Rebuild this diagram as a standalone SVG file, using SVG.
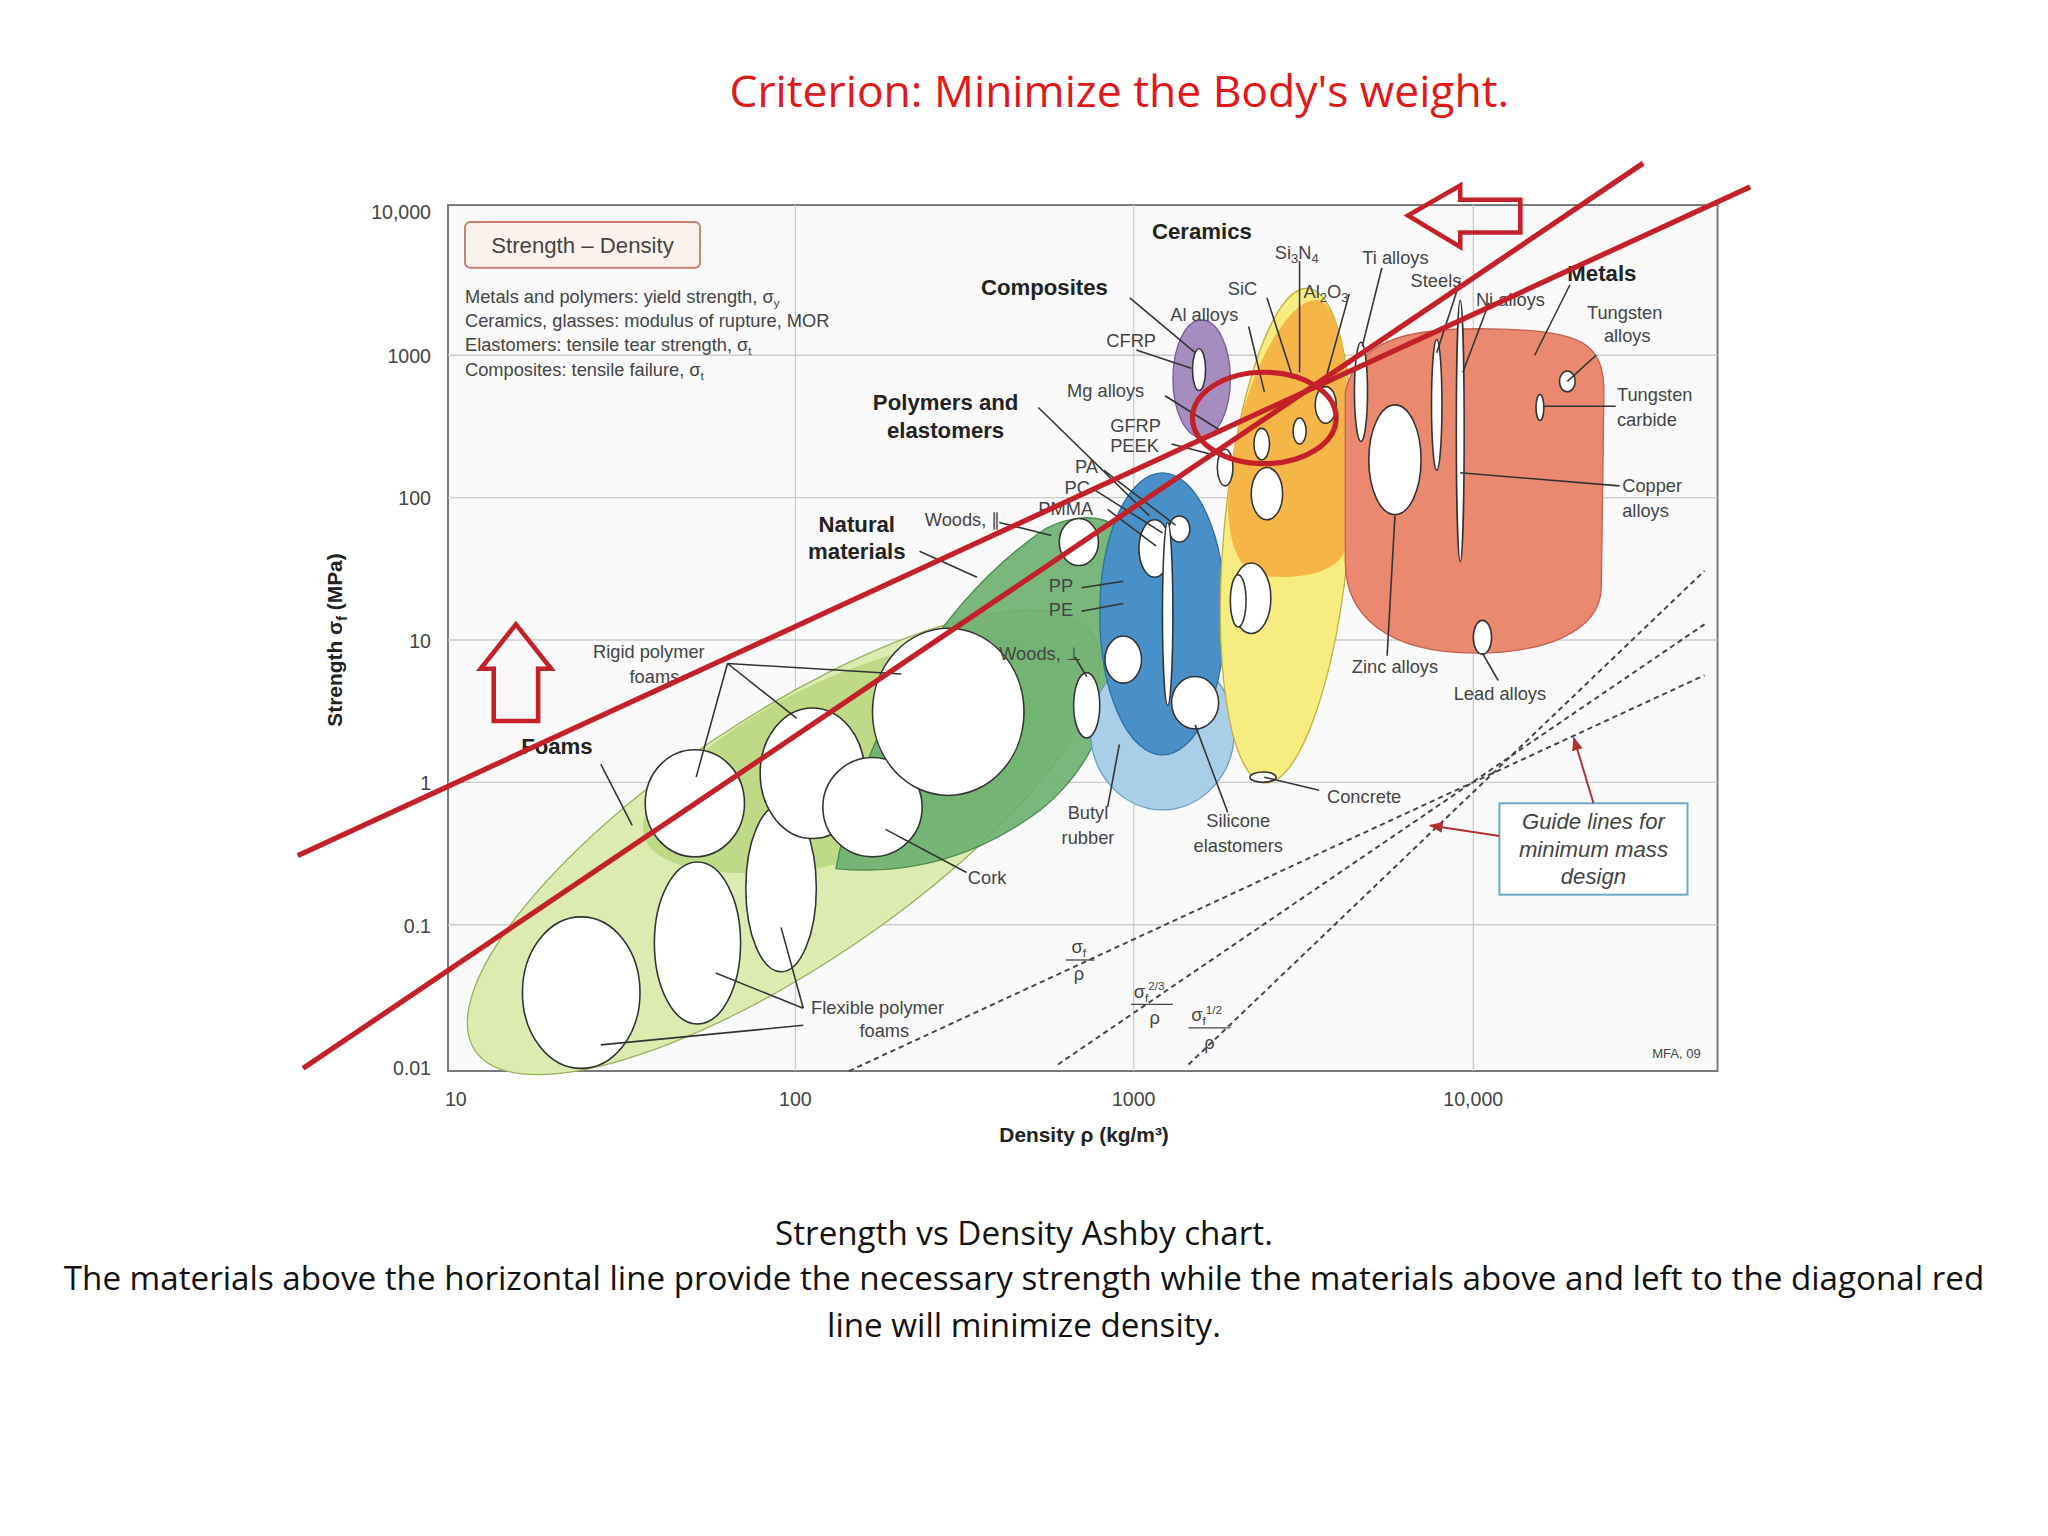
<svg xmlns="http://www.w3.org/2000/svg" width="2048" height="1536" viewBox="0 0 2048 1536">
<defs>
<style>
.t{font-family:"Liberation Sans",Arial,sans-serif;fill:#444;font-size:14px}
.b{font-family:"Liberation Sans",Arial,sans-serif;fill:#222;font-size:16px;font-weight:bold}
.ax{font-family:"Liberation Sans",Arial,sans-serif;fill:#444;font-size:15px}
.cap{font-family:"Open Sans","Liberation Sans",sans-serif;fill:#111;font-size:25.4px}
.w{fill:#fff;stroke:#333;stroke-width:1.2}
.ld{stroke:#333;stroke-width:1.2;fill:none}
.g{stroke:#ccc;stroke-width:1}
.d{stroke:#444;stroke-width:1.5;stroke-dasharray:4 3;fill:none}
.red{stroke:#c4202a;stroke-width:4;fill:none}
</style>
<marker id="ah" viewBox="0 0 10 10" refX="9" refY="5" markerWidth="7" markerHeight="7" orient="auto"><path d="M0,1 L10,5 L0,9z" fill="#b03030"/></marker>
</defs>
<rect width="2048" height="1536" fill="#fff"/>
<g transform="scale(1.30612)">
<text x="857" y="82" text-anchor="middle" style="font-family:'Open Sans','Liberation Sans',sans-serif;font-size:34px;fill:#e01818">Criterion: Minimize the Body's weight.</text>
<rect x="343" y="157" width="972" height="663" fill="#fafafa" stroke="#777" stroke-width="1.5"/>
<g class="g">
<line x1="343" y1="272" x2="1315" y2="272"/><line x1="343" y1="381" x2="1315" y2="381"/><line x1="343" y1="490" x2="1315" y2="490"/><line x1="343" y1="599" x2="1315" y2="599"/><line x1="343" y1="708" x2="1315" y2="708"/>
<line x1="609" y1="157" x2="609" y2="820"/><line x1="868" y1="157" x2="868" y2="820"/><line x1="1128" y1="157" x2="1128" y2="820"/>
</g>
<g class="ax" text-anchor="end">
<text x="330" y="168">10,000</text><text x="330" y="278">1000</text><text x="330" y="387">100</text><text x="330" y="496">10</text><text x="330" y="605">1</text><text x="330" y="714">0.1</text><text x="330" y="823">0.01</text>
</g>
<g class="ax" text-anchor="middle">
<text x="349" y="847">10</text><text x="609" y="847">100</text><text x="868" y="847">1000</text><text x="1128" y="847">10,000</text>
</g>
<text x="830" y="874" text-anchor="middle" class="b" style="font-size:16px">Density ρ (kg/m³)</text>
<text transform="translate(262,490) rotate(-90)" text-anchor="middle" class="b" style="font-size:16px">Strength σ<tspan font-size="11" dy="4">f</tspan><tspan dy="-4"> (MPa)</tspan></text>
<rect x="356" y="170" width="180" height="35" rx="4" fill="#fdf3ee" stroke="#c98070" stroke-width="1.5"/>
<text x="446" y="194" text-anchor="middle" class="t" style="font-size:17px">Strength – Density</text>
<text x="356" y="232" class="t">Metals and polymers: yield strength, σ<tspan font-size="9" dy="3">y</tspan></text>
<text x="356" y="250" class="t">Ceramics, glasses: modulus of rupture, MOR</text>
<text x="356" y="269" class="t">Elastomers: tensile tear strength, σ<tspan font-size="9" dy="3">t</tspan></text>
<text x="356" y="288" class="t">Composites: tensile failure, σ<tspan font-size="9" dy="3">t</tspan></text>
<g id="foams"><ellipse cx="600" cy="645" rx="285" ry="95" transform="rotate(-34 600 645)" fill="#dcebb0" stroke="#99b060"/>
<path d="M495,620 C540,560 640,500 760,485 C820,480 840,520 800,570 C740,630 660,665 600,668 C530,672 480,660 495,620z" fill="#b6d67c" opacity="0.8"/></g>
<g id="natural"><path d="M640,665 C660,560 720,460 800,405 C840,385 875,400 868,450 C860,530 840,590 790,625 C740,660 690,670 640,665z" fill="#6cb070" opacity="0.9" stroke="#3d8040"/></g>
<g id="polymers"><ellipse cx="890" cy="560" rx="55" ry="60" fill="#a9cfe8" stroke="#6a9cc0"/><ellipse cx="890" cy="470" rx="48" ry="108" fill="#4a90c8" stroke="#2f6fa0"/></g>
<g id="ceramics"><ellipse cx="985" cy="410" rx="48" ry="190" transform="rotate(5 985 410)" fill="#f6ec80" stroke="#c0b040"/>
<path d="M940,380 C945,300 985,225 1010,230 C1035,240 1035,330 1030,420 C1025,440 990,445 960,440 C945,430 940,410 940,380z" fill="#f5b040" opacity="0.9"/></g>
<g id="composites"><ellipse cx="920" cy="290" rx="22" ry="45" fill="#a78cc0" stroke="#7a5a98"/></g>
<g id="metals"><path d="M1030,300 C1040,255 1090,250 1150,252 C1210,254 1228,262 1228,300 L1226,450 C1225,485 1180,500 1130,500 C1060,500 1030,470 1030,430z" fill="#ea8870" stroke="#c06050"/></g>
<g class="w">
<ellipse cx="445" cy="760" rx="45" ry="58"/><ellipse cx="534" cy="722" rx="33" ry="62"/><ellipse cx="598" cy="680" rx="27" ry="64"/>
<ellipse cx="532" cy="615" rx="38" ry="41"/><ellipse cx="622" cy="592" rx="40" ry="50"/><ellipse cx="668" cy="618" rx="38" ry="38"/><ellipse cx="726" cy="545" rx="58" ry="64"/>
<ellipse cx="1068" cy="352" rx="20" ry="42"/><ellipse cx="958" cy="458" rx="15" ry="27"/><ellipse cx="915" cy="538" rx="18" ry="20"/><ellipse cx="860" cy="505" rx="14" ry="18"/>
<ellipse cx="832" cy="540" rx="10" ry="25"/><ellipse cx="826" cy="415" rx="15" ry="18"/><ellipse cx="970" cy="378" rx="12" ry="20"/><ellipse cx="938" cy="358" rx="6" ry="14"/>
<ellipse cx="1135" cy="488" rx="7" ry="13"/><ellipse cx="1200" cy="292" rx="6" ry="8"/><ellipse cx="1179" cy="312" rx="3" ry="10"/><ellipse cx="1042" cy="300" rx="5" ry="38"/>
<ellipse cx="1100" cy="310" rx="4" ry="50"/><ellipse cx="1118" cy="330" rx="3" ry="100"/><ellipse cx="918" cy="283" rx="5" ry="16"/><ellipse cx="1015" cy="310" rx="8" ry="14"/>
<ellipse cx="884" cy="420" rx="12" ry="22"/><ellipse cx="903" cy="405" rx="8" ry="10"/><ellipse cx="966" cy="340" rx="6" ry="12"/><ellipse cx="995" cy="330" rx="5" ry="10"/>
<ellipse cx="967" cy="595" rx="10" ry="4"/><ellipse cx="894" cy="470" rx="4" ry="70"/><ellipse cx="948" cy="460" rx="6" ry="20"/>
</g>
<g class="ld">
<path d="M460,585 L484,632"/><path d="M557,508 L533,595 M557,508 L610,550 M557,508 L690,516"/><path d="M678,635 L740,668"/>
<path d="M615,772 L548,745 M615,772 L598,710 M615,785 L460,800"/><path d="M704,422 L748,442"/><path d="M765,400 L805,410"/>
<path d="M823,503 L832,518"/><path d="M828,450 L860,445 M828,468 L860,462"/><path d="M848,618 L857,570"/><path d="M940,622 L915,555"/>
<path d="M1010,605 L968,595"/><path d="M1062,502 L1068,395"/><path d="M1147,521 L1135,500"/><path d="M1240,372 L1118,362"/>
<path d="M1237,311 L1182,311"/><path d="M1222,272 L1200,292"/><path d="M1202,218 L1175,272"/><path d="M865,228 L915,270"/>
<path d="M870,268 L912,282"/><path d="M892,303 L935,330"/><path d="M795,312 L880,395"/><path d="M956,250 L968,300"/><path d="M970,228 L990,290"/>
<path d="M995,200 L995,285"/><path d="M1033,225 L1015,290"/><path d="M1058,205 L1043,265"/><path d="M1118,215 L1100,270"/><path d="M1140,232 L1120,285"/>
<path d="M897,340 L928,348"/><path d="M845,360 L900,402"/><path d="M838,375 L890,408"/><path d="M848,390 L885,418"/>
</g>
<g class="t">
<text x="882" y="183" class="b" style="font-size:17px">Ceramics</text>
<text x="751" y="226" class="b" style="font-size:17px">Composites</text>
<text x="724" y="314" class="b" text-anchor="middle" style="font-size:17px">Polymers and</text><text x="724" y="335" class="b" text-anchor="middle" style="font-size:17px">elastomers</text>
<text x="656" y="407" class="b" text-anchor="middle" style="font-size:17px">Natural</text><text x="656" y="428" class="b" text-anchor="middle" style="font-size:17px">materials</text>
<text x="1200" y="215" class="b" style="font-size:17px">Metals</text>
<text x="399" y="577" class="b" style="font-size:17px">Foams</text>
<text x="976" y="198">Si<tspan font-size="10" dy="3">3</tspan><tspan dy="-3">N</tspan><tspan font-size="10" dy="3">4</tspan></text>
<text x="1043" y="202">Ti alloys</text><text x="1080" y="220">Steels</text><text x="1130" y="234">Ni alloys</text>
<text x="940" y="226">SiC</text><text x="998" y="228">Al<tspan font-size="10" dy="3">2</tspan><tspan dy="-3">O</tspan><tspan font-size="10" dy="3">3</tspan></text>
<text x="896" y="246">Al alloys</text><text x="847" y="266">CFRP</text><text x="817" y="304">Mg alloys</text>
<text x="850" y="331">GFRP</text><text x="850" y="346">PEEK</text><text x="823" y="362">PA</text><text x="815" y="378">PC</text><text x="795" y="394">PMMA</text>
<text x="708" y="403">Woods, ∥</text><text x="803" y="453">PP</text><text x="803" y="472">PE</text><text x="765" y="505">Woods, ⊥</text>
<text x="454" y="504">Rigid polymer</text><text x="482" y="523">foams</text>
<text x="833" y="627" text-anchor="middle">Butyl</text><text x="833" y="646" text-anchor="middle">rubber</text>
<text x="948" y="633" text-anchor="middle">Silicone</text><text x="948" y="652" text-anchor="middle">elastomers</text>
<text x="741" y="677">Cork</text><text x="1016" y="615">Concrete</text><text x="1035" y="515">Zinc alloys</text><text x="1113" y="536">Lead alloys</text>
<text x="621" y="776">Flexible polymer</text><text x="658" y="794">foams</text>
<text x="1215" y="244">Tungsten</text><text x="1228" y="262">alloys</text><text x="1238" y="307">Tungsten</text><text x="1238" y="326">carbide</text>
<text x="1242" y="377">Copper</text><text x="1242" y="396">alloys</text>
<text x="1265" y="810" font-size="10">MFA, 09</text>
<text x="826" y="730" text-anchor="middle">σ<tspan font-size="9" dy="3">f</tspan></text><line x1="816" y1="735" x2="838" y2="735" stroke="#444"/><text x="826" y="750" text-anchor="middle">ρ</text>
<text x="868" y="764">σ<tspan font-size="9" dy="3">f</tspan><tspan font-size="9" dy="-9">2/3</tspan></text><line x1="866" y1="769" x2="898" y2="769" stroke="#444"/><text x="880" y="784">ρ</text>
<text x="912" y="782">σ<tspan font-size="9" dy="3">f</tspan><tspan font-size="9" dy="-9">1/2</tspan></text><line x1="910" y1="787" x2="942" y2="787" stroke="#444"/><text x="922" y="803">ρ</text>
</g>
<g class="d"><path d="M650,820 L1305,517"/><path d="M810,815 L1305,478"/><path d="M910,815 L1305,437"/></g>
<rect x="1148" y="615" width="144" height="70" fill="#fff" stroke="#6aa8c8" stroke-width="1.5"/>
<g class="t" style="font-style:italic;font-size:17px" text-anchor="middle"><text x="1220" y="635">Guide lines for</text><text x="1220" y="656">minimum mass</text><text x="1220" y="677">design</text></g>
<path d="M1148,640 L1095,632" stroke="#b03030" stroke-width="1.5" marker-end="url(#ah)"/>
<path d="M1220,615 L1205,565" stroke="#b03030" stroke-width="1.5" marker-end="url(#ah)"/>
<g class="red">
<line x1="228" y1="655" x2="1340" y2="143"/>
<line x1="232" y1="818" x2="1258" y2="125"/>
<ellipse cx="968" cy="320" rx="55" ry="35"/>
<path d="M378,552 L378,512 L368,512 L395,478 L422,512 L412,512 L412,552z" stroke-width="3.5"/>
<path d="M1078,165 L1118,142 L1118,153 L1164,153 L1164,178 L1118,178 L1118,189z" stroke-width="3.5"/>
</g>
<g class="cap" text-anchor="middle">
<text x="784" y="953">Strength vs Density Ashby chart.</text>
<text x="784" y="988">The materials above the horizontal line provide the necessary strength while the materials above and left to the diagonal red</text>
<text x="784" y="1024">line will minimize density.</text>
</g>
</g>
</svg>
